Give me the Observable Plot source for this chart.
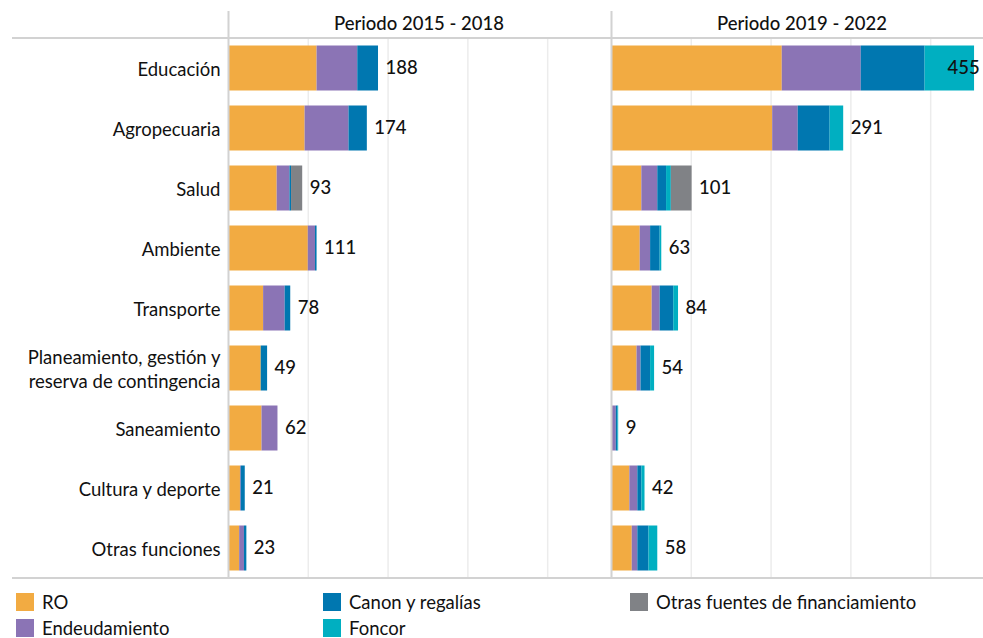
<!DOCTYPE html>
<html>
<head>
<meta charset="utf-8">
<script src="https://cdn.jsdelivr.net/npm/d3@7"></script>
<script src="https://cdn.jsdelivr.net/npm/@observablehq/plot@0.6"></script>
<style>
  html, body { margin: 0; padding: 0; background: #fff; overflow: hidden; }
  #wrap { width: 983px; height: 638px; overflow: hidden; position: relative; font-family: Lato, "Open Sans", sans-serif; }
  #chart { width: 983px; height: 582px; overflow: hidden; }
  #chart svg { max-width: none !important; }
  #legend { display: grid; grid-template-columns: 307px 307px 340px; grid-auto-rows: 26px; padding: 11px 0 0 16px; }
  .item { display: flex; align-items: center; font-size: 18.5px; color: #111; height: 18px; }
  .sw { width: 18px; height: 18px; margin-right: 8px; flex: none; }
  [aria-label="fx-axis tick label"] text { font-weight: 500; font-size: 18.5px; }
</style>
</head>
<body>
<div id="wrap">
  <div id="chart"></div>
  <div id="legend"></div>
</div>
<script>
const categories = [
  "Educación", "Agropecuaria", "Salud", "Ambiente", "Transporte",
  "Planeamiento, gestión y\nreserva de contingencia", "Saneamiento",
  "Cultura y deporte", "Otras funciones"
];
const periods = ["Periodo 2015 - 2018", "Periodo 2019 - 2022"];
const sources = ["RO", "Endeudamiento", "Canon y regalías", "Foncor", "Otras fuentes de financiamiento"];
const colors = ["#F2AB42", "#8B74B5", "#0077B0", "#00AFC1", "#808286"];

// Periodo 2015 - 2018
const p1RO     = [111, 96, 61, 100, 44, 41, 42, 15, 14];
const p1End    = [51, 55, 16, 9, 27, 0, 20, 1, 6];
const p1Canon  = [26, 23, 2, 2, 7, 8, 0, 5, 3];
const p1Foncor = [0, 0, 0, 0, 0, 0, 0, 0, 0];
const p1Otras  = [0, 0, 14, 0, 0, 0, 0, 0, 0];
const totals1  = [188, 174, 93, 111, 78, 49, 62, 21, 23];

// Periodo 2019 - 2022
const p2RO     = [214, 202, 38, 36, 51, 32, 1, 23, 26];
const p2End    = [99, 32, 20, 13, 10, 5, 5, 10, 7];
const p2Canon  = [80, 40, 11, 12, 17, 12, 2, 5, 14];
const p2Foncor = [62, 17, 6, 2, 6, 5, 1, 4, 11];
const p2Otras  = [0, 0, 26, 0, 0, 0, 0, 0, 0];
const totals2  = [455, 291, 101, 63, 84, 54, 9, 42, 58];

const series = [
  [p1RO, p1End, p1Canon, p1Foncor, p1Otras],
  [p2RO, p2End, p2Canon, p2Foncor, p2Otras]
];
const data = [];
periods.forEach((p, pi) => {
  series[pi].forEach((arr, si) => {
    arr.forEach((v, ci) => data.push({period: p, source: sources[si], category: categories[ci], value: v}));
  });
});
const totals = [];
[totals1, totals2].forEach((arr, pi) => arr.forEach((v, ci) => totals.push({period: periods[pi], category: categories[ci], total: v})));

const plot = Plot.plot({
  width: 993,
  height: 582,
  marginLeft: 227,
  marginRight: 0,
  marginTop: 38,
  marginBottom: 4,
  style: {fontFamily: "Lato, 'Open Sans', sans-serif", fontSize: "17px", color: "#111", background: "#fff", maxWidth: "none"},
  fx: {domain: periods, paddingInner: 0.0052, paddingOuter: 0, axis: "top", label: null, tickSize: 0, tickPadding: 9},
  x: {domain: [0, 477.5], axis: null},
  y: {domain: categories, axis: null, padding: 0},
  color: {domain: sources, range: colors},
  marks: [
    Plot.ruleX([100, 200, 300, 400], {stroke: "#ececec", strokeWidth: 1.5}),
    Plot.barX(data, {
      x: "value", y: "category", fx: "period", fill: "source",
      order: sources, insetTop: 7.5, insetBottom: 7.5
    }),
    Plot.ruleX([0], {stroke: "#d2d2d2", strokeWidth: 2, insetTop: -27}),
    Plot.text(totals.filter(d => d.total < 440), {
      x: "total", y: "category", fx: "period", text: d => String(d.total),
      textAnchor: "start", dx: 7, fontSize: 18.5, fontWeight: 500, fill: "#111"
    }),
    Plot.text(totals.filter(d => d.total >= 440), {
      x: "total", y: "category", fx: "period", text: d => String(d.total),
      textAnchor: "start", dx: -27, fontSize: 18.5, fontWeight: 500, fill: "#111"
    }),
    Plot.text(categories, {
      y: d => d, fx: () => periods[0], frameAnchor: "left", dx: -8,
      textAnchor: "end", lineHeight: 1.3, fontSize: 18.5, fill: "#111"
    })
  ]
});

const svg = d3.select(plot);
const yr = plot.scale("y").range;
[yr[0], yr[1]].forEach(y => {
  svg.append("line")
    .attr("x1", 12).attr("x2", 993)
    .attr("y1", y).attr("y2", y)
    .attr("stroke", "#d2d2d2").attr("stroke-width", 2);
});
document.getElementById("chart").appendChild(plot);

const legendOrder = ["RO", "Canon y regalías", "Otras fuentes de financiamiento", "Endeudamiento", "Foncor"];
const legend = document.getElementById("legend");
legendOrder.forEach(s => {
  const item = document.createElement("div");
  item.className = "item";
  const sw = document.createElement("span");
  sw.className = "sw";
  sw.style.background = colors[sources.indexOf(s)];
  const label = document.createElement("span");
  label.textContent = s;
  item.appendChild(sw);
  item.appendChild(label);
  legend.appendChild(item);
});
</script>
</body>
</html>
